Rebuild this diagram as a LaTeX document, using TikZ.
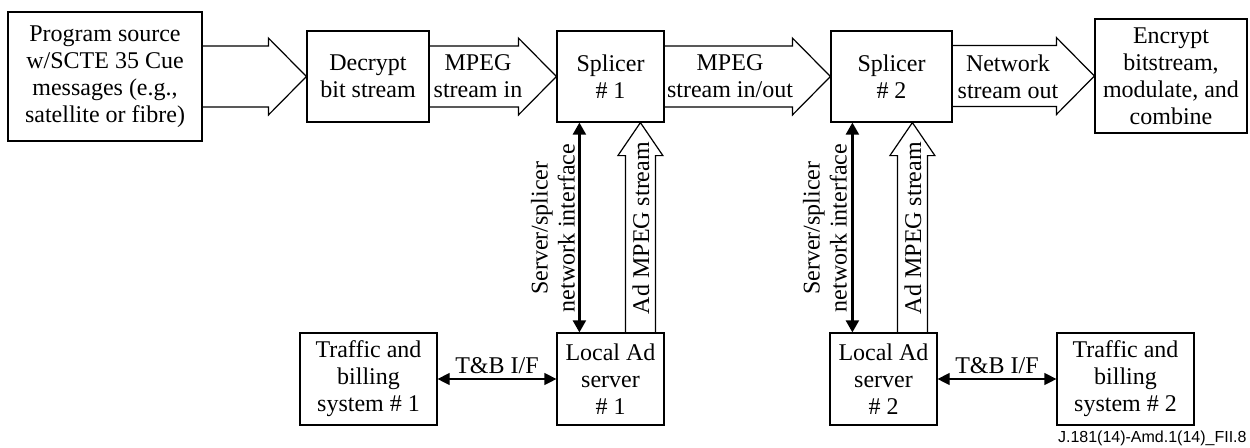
\documentclass[tikz,border=0pt]{standalone}
\usepackage{fontspec}
\setmainfont{Liberation Serif}
\newfontfamily\footfont{Liberation Sans}
\usetikzlibrary{calc,arrows.meta}
\newcommand\hblock[2]{%
  \draw[blk] ($(#1.east |- #2.west)+(0,-30.5)$) -- ($(#2.west)+(-38,-30.5)$) -- ($(#2.west)+(-38,-38.5)$) -- (#2.west)
    -- ($(#2.west)+(-38,38.5)$) -- ($(#2.west)+(-38,30.5)$) -- ($(#1.east |- #2.west)+(0,30.5)$);}
\newcommand\vblock[4]{% bottom node, top node, x offset, name
  \coordinate (#4b) at ($(#1.north west)+(#3,0)$);
  \coordinate (#4t) at (#4b |- #2.south);
  \draw[blk] ($(#4b)+(-15,0)$) -- ($(#4t)+(-15,33)$) -- ($(#4t)+(-22.5,33)$) -- (#4t)
    -- ($(#4t)+(22.5,33)$) -- ($(#4t)+(15,33)$) -- ($(#4b)+(15,0)$);}
\begin{document}
\begin{tikzpicture}[x=0.5pt,y=-0.5pt,
  box/.style={draw,line width=0.6pt,align=center,inner sep=0pt,font=\fontsize{12}{13.5}\selectfont},
  lbl/.style={align=center,inner sep=0pt,font=\fontsize{12}{13.5}\selectfont},
  blk/.style={draw,line width=0.6pt,line join=miter},
  bi/.style={line width=1.1pt,{Triangle[width=6.5pt,length=6pt]}-{Triangle[width=6.5pt,length=6pt]}},
  tb/.style={line width=0.6pt,{Triangle[width=6pt,length=6pt]}-{Triangle[width=6pt,length=6pt]}}]
\useasboundingbox (0,0) rectangle (1250,447);
% boxes
\node[box,minimum width=97pt,minimum height=64.5pt] (ps) at (105,76.5) {Program source\\w/SCTE 35 Cue\\messages (e.g.,\\satellite or fibre)};
\node[box,minimum width=61pt,minimum height=45.5pt] (dec) at (368,76.5) {Decrypt\\bit stream};
\node[box,minimum width=53.5pt,minimum height=45.5pt] (sp1) at (610.5,76.5) {Splicer\\\# 1};
\node[box,minimum width=60.5pt,minimum height=45.5pt] (sp2) at (891.5,76.5) {Splicer\\\# 2};
\node[box,minimum width=76pt,minimum height=57pt] (enc) at (1171,76) {Encrypt\\bitstream,\\modulate, and\\combine};
\node[box,minimum width=68.5pt,minimum height=46pt] (tb1) at (368.5,379) {Traffic and\\billing\\system \# 1};
\node[box,minimum width=53.5pt,minimum height=46pt] (lad1) at (610.5,379) {Local Ad\\server\\\# 1};
\node[box,minimum width=53.5pt,minimum height=46pt] (lad2) at (883.5,379) {Local Ad\\server\\\# 2};
\node[box,minimum width=68.5pt,minimum height=46pt] (tb2) at (1125.5,379) {Traffic and\\billing\\system \# 2};
% horizontal block arrows
\hblock{ps}{dec}
\hblock{dec}{sp1}
\hblock{sp1}{sp2}
\hblock{sp2}{enc}
\node[lbl] (l1) at (478,76.5) {MPEG\\stream in};
\node[lbl] (l2) at (730,76.5) {MPEG\\stream in/out};
\node[lbl] (l3) at (1008,76.5) {Network\\stream out};
% vertical block arrows
\vblock{lad1}{sp1}{84}{va}
\vblock{lad2}{sp2}{83}{vb}
\node[lbl,rotate=90] (l4) at (641,228) {Ad MPEG stream};
\node[lbl,rotate=90] (l5) at (913,228) {Ad MPEG stream};
% bidirectional interface arrows
\coordinate (ba) at ($(lad1.north west)+(23,0)$);
\coordinate (bb) at ($(lad2.north west)+(23,0)$);
\draw[bi] (ba) -- (ba |- sp1.south);
\draw[bi] (bb) -- (bb |- sp2.south);
\node[lbl,rotate=90] (l6) at (553,228) {Server/splicer\\network interface};
\node[lbl,rotate=90] (l7) at (825,228) {Server/splicer\\network interface};
% T&B arrows
\draw[tb] (tb1.east) -- (lad1.west);
\draw[tb] (lad2.east) -- (tb2.west);
\node[lbl] (l8) at (497,366) {T\&B I/F};
\node[lbl] (l9) at (997,366) {T\&B I/F};
% figure id
\node[inner sep=0pt,anchor=east,font=\footfont\fontsize{8}{9}\selectfont] (fid) at (1247,438) {J.181(14)-Amd.1(14)\_FII.8};
\end{tikzpicture}
\end{document}
